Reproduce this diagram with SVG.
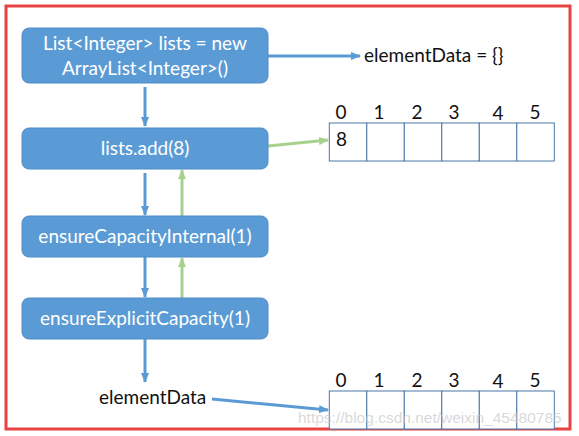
<svg xmlns="http://www.w3.org/2000/svg" width="579" height="436" viewBox="0 0 579 436">
<defs>
<style>
.box{fill:#5b9bd5;stroke:#4f8cc6;stroke-width:1}
.bt{fill:#ffffff;font-family:Lato,"Open Sans",sans-serif;font-size:19px;text-anchor:middle}
.t{fill:#111111;font-family:Lato,"Open Sans",sans-serif;font-size:19px}
.idx{fill:#111111;font-family:Lato,"Open Sans",sans-serif;font-size:19px;text-anchor:middle}
.cell{fill:#ffffff;stroke:#4a78a8;stroke-width:1}
.blue{stroke:#5b9bd5;stroke-width:3;fill:none}
.green{stroke:#a9d18e;stroke-width:3;fill:none}
</style>
<marker id="ab" markerWidth="10" markerHeight="8" refX="9" refY="4" orient="auto" markerUnits="userSpaceOnUse"><path d="M0,0 L10,4 L0,8 z" fill="#5b9bd5"/></marker>
<marker id="ag" markerWidth="10" markerHeight="8" refX="9" refY="4" orient="auto" markerUnits="userSpaceOnUse"><path d="M0,0 L10,4 L0,8 z" fill="#a9d18e"/></marker>
</defs>
<rect x="6" y="6" width="564" height="423" fill="#ffffff" stroke="#e84343" stroke-width="3"/>
<g id="connectors">
<line class="blue" x1="145" y1="87" x2="145" y2="126" marker-end="url(#ab)"/>
<line class="blue" x1="145" y1="173" x2="145" y2="215" marker-end="url(#ab)"/>
<line class="blue" x1="145" y1="257" x2="145" y2="297" marker-end="url(#ab)"/>
<line class="blue" x1="145" y1="339" x2="145" y2="382" marker-end="url(#ab)"/>
<line class="green" x1="182" y1="216" x2="182" y2="170" marker-end="url(#ag)"/>
<line class="green" x1="182" y1="298" x2="182" y2="258" marker-end="url(#ag)"/>
<line class="blue" x1="268" y1="56" x2="360" y2="56" marker-end="url(#ab)"/>
<line class="green" x1="268" y1="146" x2="328" y2="140" marker-end="url(#ag)"/>
<line class="blue" x1="212" y1="399" x2="328" y2="410" marker-end="url(#ab)"/>
</g>
<g id="node-create">
<rect class="box" x="22" y="28" width="246" height="55" rx="7"/>
<text class="bt" x="145" y="50">List&lt;Integer&gt; lists = new</text>
<text class="bt" x="145" y="75">ArrayList&lt;Integer&gt;()</text>
</g>
<g id="node-add">
<rect class="box" x="22" y="128" width="246" height="41" rx="7"/>
<text class="bt" x="145" y="155">lists.add(8)</text>
</g>
<g id="node-internal">
<rect class="box" x="22" y="216" width="246" height="41" rx="7"/>
<text class="bt" x="145" y="243">ensureCapacityInternal(1)</text>
</g>
<g id="node-explicit">
<rect class="box" x="22" y="298" width="246" height="41" rx="7"/>
<text class="bt" x="145" y="325">ensureExplicitCapacity(1)</text>
</g>
<g id="label-empty">
<text class="t" x="364" y="62">elementData = {}</text>
</g>
<g id="label-elementData">
<text class="t" x="99" y="404">elementData</text>
</g>
<g id="array-top">
<rect class="cell" x="329.3" y="123" width="37.5" height="38"/>
<rect class="cell" x="366.8" y="123" width="37.5" height="38"/>
<rect class="cell" x="404.3" y="123" width="37.5" height="38"/>
<rect class="cell" x="441.8" y="123" width="37.5" height="38"/>
<rect class="cell" x="479.3" y="123" width="37.5" height="38"/>
<rect class="cell" x="516.8" y="123" width="37.5" height="38"/>
<text class="idx" x="341" y="119">0</text>
<text class="idx" x="379" y="119">1</text>
<text class="idx" x="417" y="119">2</text>
<text class="idx" x="454" y="119">3</text>
<text class="idx" x="498" y="120">4</text>
<text class="idx" x="535" y="119">5</text>
<text class="t" x="336" y="146">8</text>
</g>
<g id="array-bottom">
<rect class="cell" x="329.3" y="391" width="37.5" height="38"/>
<rect class="cell" x="366.8" y="391" width="37.5" height="38"/>
<rect class="cell" x="404.3" y="391" width="37.5" height="38"/>
<rect class="cell" x="441.8" y="391" width="37.5" height="38"/>
<rect class="cell" x="479.3" y="391" width="37.5" height="38"/>
<rect class="cell" x="516.8" y="391" width="37.5" height="38"/>
<text class="idx" x="341" y="387">0</text>
<text class="idx" x="379" y="387">1</text>
<text class="idx" x="417" y="387">2</text>
<text class="idx" x="454" y="387">3</text>
<text class="idx" x="498" y="388">4</text>
<text class="idx" x="535" y="387">5</text>
</g>
<text x="298" y="423" font-family="Liberation Sans,Arial,sans-serif" font-size="15.5" fill="#c8c8c8" fill-opacity="0.7">https://blog.csdn.net/weixin_45480785</text>
</svg>
